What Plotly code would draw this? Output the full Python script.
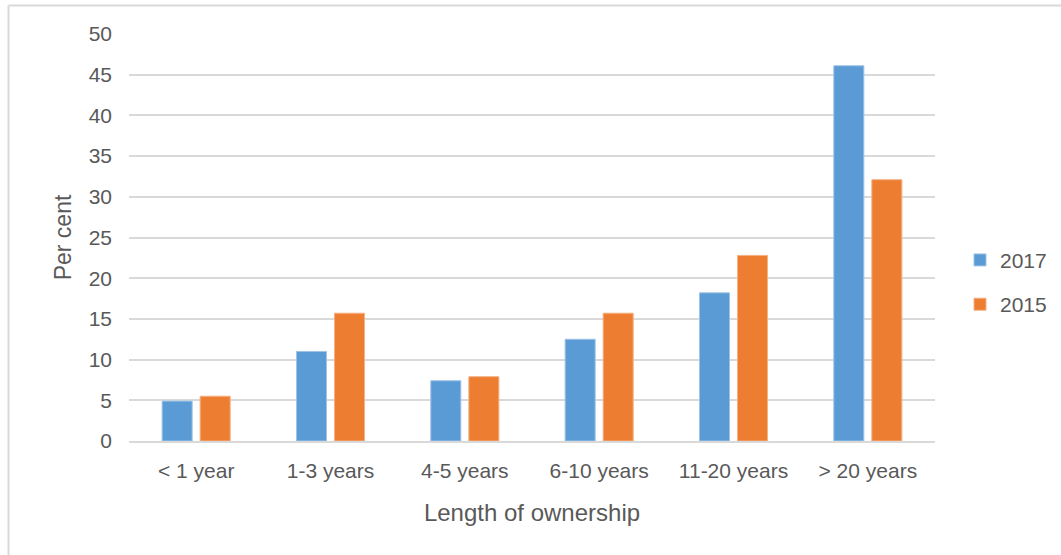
import plotly.graph_objects as go

categories = ["< 1 year", "1-3 years", "4-5 years", "6-10 years", "11-20 years", "> 20 years"]
values_2017 = [4.9, 11.0, 7.4, 12.5, 18.2, 46.1]
values_2015 = [5.5, 15.7, 7.9, 15.7, 22.8, 32.1]
y_ticks = [0, 5, 10, 15, 20, 25, 30, 35, 40, 45, 50]

FONT = "Liberation Sans"
GREY = "#595959"

fig = go.Figure()
fig.add_trace(go.Bar(name="2017", x=categories, y=values_2017, legendgroup="a",
                     marker=dict(color="#5B9BD5", line=dict(color="#9DC3E6", width=1))))
fig.add_trace(go.Bar(name="2015", x=categories, y=values_2015, legendgroup="b",
                     marker=dict(color="#ED7D31", line=dict(color="#F4B183", width=1))))

W, H = 1061, 555
L, R, T, B = 129, 126, 34, 114
pw, ph = W - L - R, H - T - B

def px(x):
    return (x - L) / pw

def py(y):
    return (H - B - y) / ph

fig.update_layout(
    width=W, height=H,
    margin=dict(l=L, r=R, t=T, b=B, autoexpand=False),
    paper_bgcolor="white", plot_bgcolor="white",
    barmode="group", bargap=0.434, bargroupgap=0.21,
    font=dict(family=FONT, size=21, color=GREY),
    showlegend=True,
    legend=dict(x=px(960), y=0.39, xanchor="left", yanchor="middle",
                font=dict(size=21, color=GREY), itemwidth=30,
                tracegroupgap=14, bgcolor="rgba(0,0,0,0)"),
    xaxis=dict(showgrid=False, showline=True, linecolor="#D9D9D9", linewidth=2,
               ticks="", tickfont=dict(size=21, color=GREY), ticklabelstandoff=10,
               automargin=False,
               title=dict(text="Length of ownership", font=dict(size=24, color=GREY), standoff=23)),
    yaxis=dict(range=[0, 50], tickvals=y_ticks, showgrid=True, gridcolor="#D9D9D9", gridwidth=1.5,
               zeroline=False, ticks="", tickfont=dict(size=21, color=GREY), ticklabelstandoff=16,
               automargin=False,
               title=dict(text="Per cent", font=dict(size=23, color=GREY), standoff=10)),
    shapes=[
        dict(type="line", xref="paper", yref="paper", x0=px(8.5), x1=px(8.5), y0=py(H), y1=py(5.5),
             line=dict(color="#D9D9D9", width=2)),
        dict(type="line", xref="paper", yref="paper", x0=px(8.5), x1=px(W), y0=py(5.5), y1=py(5.5),
             line=dict(color="#D9D9D9", width=2)),
    ],
)

fig.write_html("out.html", config={"displayModeBar": False},
               post_script="document.body.style.margin='0';")
